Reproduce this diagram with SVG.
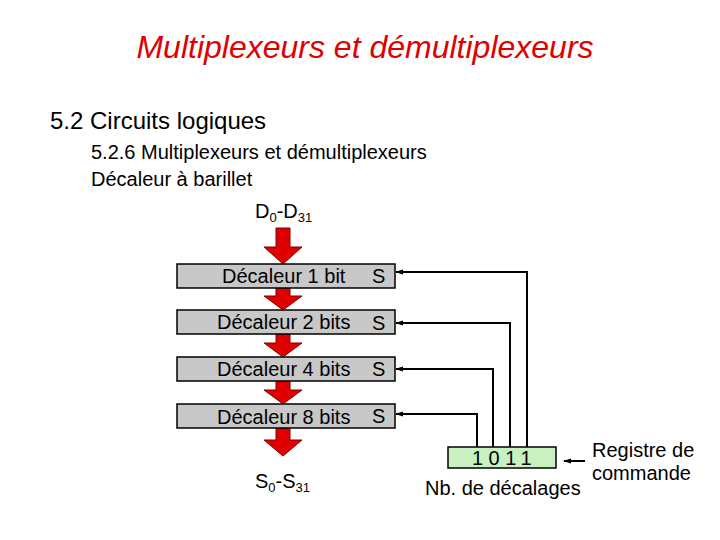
<svg xmlns="http://www.w3.org/2000/svg" width="720" height="540" viewBox="0 0 720 540">
<style>
text{font-family:"Liberation Sans",Arial,sans-serif;fill:#000}
.box{fill:#c8c8c8;stroke:#000;stroke-width:1.5}
.ln{fill:none;stroke:#000;stroke-width:2}
.red{fill:#e00000;stroke:#800000;stroke-width:1}
.t{font-size:20px}
</style>
<defs>
<marker id="ah" markerWidth="8" markerHeight="8" refX="7" refY="4" orient="auto" markerUnits="userSpaceOnUse"><path d="M0,1.5 L8,4 L0,6.5 Z" fill="#000"/></marker>
</defs>
<rect width="720" height="540" fill="#fff"/>
<text x="365" y="58" text-anchor="middle" font-size="32" font-style="italic" style="fill:#e00000">Multiplexeurs et démultiplexeurs</text>
<text x="50" y="129" font-size="24">5.2 Circuits logiques</text>
<text x="91" y="159" font-size="20">5.2.6 Multiplexeurs et démultiplexeurs</text>
<text x="91" y="186" font-size="20">Décaleur à barillet</text>
<text x="255" y="218" class="t">D<tspan font-size="13" dy="4">0</tspan><tspan dy="-4">-D</tspan><tspan font-size="13" dy="4">31</tspan></text>
<g id="arrows">
<path class="red" d="M276,228 H290 V247 H302 L283,264 L264,247 H276 Z"/>
<path class="red" d="M276,288 H290 V296 H302 L283,310 L264,296 H276 Z"/>
<path class="red" d="M276,334 H290 V343 H302 L283,357 L264,343 H276 Z"/>
<path class="red" d="M276,381 H290 V390 H302 L283,404 L264,390 H276 Z"/>
<path class="red" d="M276,428 H290 V440 H302 L283,456 L264,440 H276 Z"/>
</g>
<g id="b1"><rect class="box" x="177" y="264" width="218" height="24"/><text x="222" y="283" class="t">Décaleur 1 bit</text><text x="372" y="283" class="t">S</text></g>
<g id="b2"><rect class="box" x="177" y="310" width="218" height="24"/><text x="217" y="329" class="t">Décaleur 2 bits</text><text x="372" y="330" class="t">S</text></g>
<g id="b4"><rect class="box" x="177" y="357" width="218" height="24"/><text x="217" y="376" class="t">Décaleur 4 bits</text><text x="372" y="376" class="t">S</text></g>
<g id="b8"><rect class="box" x="177" y="404" width="218" height="24"/><text x="217" y="424" class="t">Décaleur 8 bits</text><text x="372" y="423" class="t">S</text></g>
<text x="255" y="488" class="t">S<tspan font-size="13" dy="4">0</tspan><tspan dy="-4">-S</tspan><tspan font-size="13" dy="4">31</tspan></text>
<g id="reg"><rect x="448" y="447" width="108" height="21" fill="#c8f0c0" stroke="#000" stroke-width="1.5"/><text x="472" y="465" class="t" letter-spacing="5.5">1011</text></g>
<g id="connectors">
<polyline class="ln" points="527,447 527,272 396,272" marker-end="url(#ah)"/>
<polyline class="ln" points="510,447 510,323 396,323" marker-end="url(#ah)"/>
<polyline class="ln" points="493,447 493,369 396,369" marker-end="url(#ah)"/>
<polyline class="ln" points="477,447 477,414 396,414" marker-end="url(#ah)"/>
<line class="ln" x1="585" y1="461" x2="564" y2="461" marker-end="url(#ah)"/>
</g>
<text x="425" y="495" class="t">Nb. de décalages</text>
<text x="592" y="457" class="t">Registre de</text>
<text x="592" y="480" class="t">commande</text>
</svg>
